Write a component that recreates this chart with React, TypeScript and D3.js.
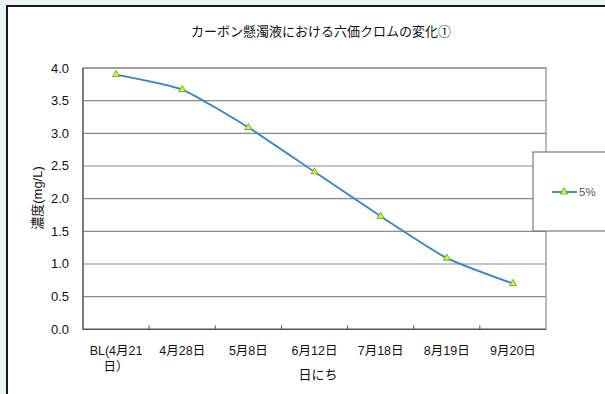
import React from "react";
import * as d3 from "d3";

const categories = ["BL(4月21\n日）", "4月28日", "5月8日", "6月12日", "7月18日", "8月19日", "9月20日"];
const values = [3.9, 3.67, 3.09, 2.41, 1.73, 1.09, 0.7];
const yTicks = [0, 0.5, 1.0, 1.5, 2.0, 2.5, 3.0, 3.5, 4.0];
const seriesName = "5%";
const title = "カーボン懸濁液における六価クロムの変化①";
const xTitle = "日にち";
const yTitle = "濃度(mg/L)";

const W = 605, H = 394;
const left = 83, right = 546, top = 68, bottom = 329.3;
const font = "'Liberation Sans', 'Noto Sans CJK JP', sans-serif";

export default function App() {
  const x = d3.scaleBand<number>().domain(categories.map((_, i) => i)).range([left, right]);
  const y = d3.scaleLinear().domain([0, 4]).range([bottom, top]);
  const line = d3.line<number>()
    .x((_, i) => (x(i) as number) + x.bandwidth() / 2)
    .y((d) => y(d))
    .curve(d3.curveCardinal.tension(0.5));
  const tri = d3.symbol().type(d3.symbolTriangle).size(22)();
  const boundaries = d3.range(categories.length + 1).map((i) => left + i * x.bandwidth());

  return (
    <div style={{ position: "fixed", left: 0, top: 0 }}>
      <svg width={W} height={H} style={{ display: "block" }} fontFamily={font}>
        <rect x={0} y={0} width={W} height={H} fill="#eff4f7" />
        <rect x={7} y={6} width={W} height={H} fill="#ffffff" stroke="#1a1a1a" strokeWidth={2} />
        <text x={321} y={36} textAnchor="middle" fontSize={13} fill="#111">{title}</text>
        {yTicks.map((t) => (
          <line key={t} x1={left} x2={right} y1={y(t)} y2={y(t)} stroke="#8a8a8a" strokeWidth={1.2} />
        ))}
        <rect x={left} y={top} width={right - left} height={bottom - top} fill="none" stroke="#8a8a8a" strokeWidth={1.2} />
        <line x1={left} x2={left} y1={top} y2={bottom} stroke="#555" strokeWidth={1.2} />
        <line x1={left} x2={right} y1={bottom} y2={bottom} stroke="#555" strokeWidth={1.2} />
        {boundaries.slice(1, -1).map((b, i) => (
          <line key={i} x1={b} x2={b} y1={bottom} y2={bottom - 4} stroke="#555" />
        ))}
        {yTicks.map((t) => (
          <text key={t} x={69} y={y(t) + 4.5} textAnchor="end" fontSize={13} fill="#111">{t.toFixed(1)}</text>
        ))}
        {categories.map((c, i) => {
          const cx = (x(i) as number) + x.bandwidth() / 2;
          return c.split("\n").map((ln, j) => (
            <text key={i + "-" + j} x={cx} y={355 + j * 16} textAnchor="middle" fontSize={12.5} fill="#111">{ln}</text>
          ));
        })}
        <text x={318} y={379} textAnchor="middle" fontSize={13} fill="#111">{xTitle}</text>
        <text transform={`translate(42,198) rotate(-90)`} textAnchor="middle" fontSize={13} fill="#111">{yTitle}</text>
        <path d={line(values) || ""} fill="none" stroke="#2f86d0" strokeWidth={1.8} />
        {values.map((v, i) => (
          <path key={i} d={tri || ""} transform={`translate(${(x(i) as number) + x.bandwidth() / 2},${y(v)})`} fill="#f2f200" stroke="#3aa060" strokeWidth={0.8} />
        ))}
        <rect x={533} y={152} width={80} height={79} fill="#fff" stroke="#7a7a7a" strokeWidth={1.2} />
        <line x1={552} x2={577} y1={192} y2={192} stroke="#2f86d0" strokeWidth={1.8} />
        <path d={tri || ""} transform="translate(564,192)" fill="#f2f200" stroke="#3aa060" strokeWidth={0.8} />
        <text x={579} y={196} fontSize={11.5} fill="#555">{seriesName}</text>
      </svg>
    </div>
  );
}
